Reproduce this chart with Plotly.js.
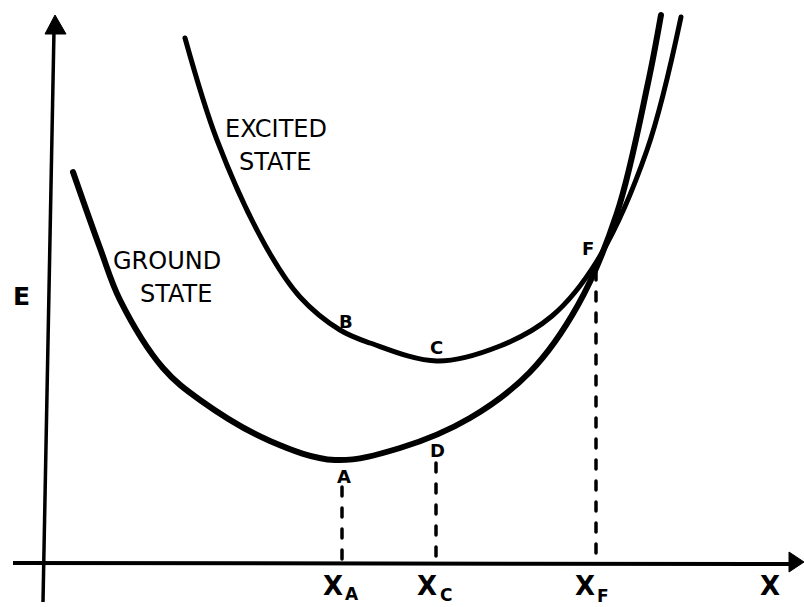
<!DOCTYPE html>
<html>
<head>
<meta charset="utf-8">
<script src="https://cdn.plot.ly/plotly-3.0.1.min.js"></script>
<style>
  html, body { margin: 0; padding: 0; background: #fff; }
  #chart { width: 804px; height: 607px; }
  .scatterlayer path.js-line { stroke-linecap: round; stroke-linejoin: round; }
</style>
</head>
<body>
<div id="chart"></div>
<script>
// Points (page pixel space: x right, y down)
const groundX = [73, 100, 120, 163, 200, 270, 335, 400, 470, 530, 578, 617, 648, 661];
const groundY = [172, 248, 300, 368, 400, 441, 460, 448, 418, 372, 305, 213, 83, 15];

const excitedX = [185, 217, 265, 300, 340, 370, 437, 500, 552, 597, 647, 681];
const excitedY = [38, 140, 245, 297, 330, 343, 361, 346, 316, 261, 150, 17];

// Drop lines from the marked points to the X axis
const dropNames = ["A", "D", "F"];
const dropX = [342, 436, 596];
const dropTopY = [487, 463, 271];
const baseY = 561;

// Point labels
const pointLabels = ["B", "C", "A", "D", "F"];
const pointLabelX = [346, 436, 344, 437, 588];
const pointLabelY = [321, 347, 476, 450, 248];

// Axis tick labels: main letter and subscript
const tickMain = ["X", "X", "X"];
const tickSub = ["A", "C", "F"];
const tickMainX = [333, 427, 585];
const tickSubX = [352, 446, 603];
const tickSubY = [594, 595, 596];

const traces = [];
traces.push({
  x: groundX, y: groundY, type: "scatter", mode: "lines",
  line: { color: "#000", width: 6, shape: "spline", smoothing: 1 },
  hoverinfo: "skip", name: "GROUND STATE"
});
traces.push({
  x: excitedX, y: excitedY, type: "scatter", mode: "lines",
  line: { color: "#000", width: 5, shape: "spline", smoothing: 1 },
  hoverinfo: "skip", name: "EXCITED STATE"
});
for (let i = 0; i < dropX.length; i++) {
  traces.push({
    x: [dropX[i], dropX[i]], y: [dropTopY[i], baseY], type: "scatter", mode: "lines",
    line: { color: "#000", width: 3.5, dash: "9px,12px" },
    hoverinfo: "skip", name: dropNames[i]
  });
}

const fontLabel = { family: "DejaVu Sans", size: 24, color: "#000" };
const fontBold = { family: "DejaVu Sans", size: 18, color: "#000", weight: "bold" };
const fontAxis = { family: "DejaVu Sans", size: 26, color: "#000", weight: "bold" };
const fontSub = { family: "DejaVu Sans", size: 17, color: "#000", weight: "bold" };

const annotations = [];
function ann(text, x, y, font) {
  annotations.push({ text, x, y, xref: "x", yref: "y", showarrow: false,
    xanchor: "center", yanchor: "middle", font });
}
ann("EXCITED", 276, 129, fontLabel);
ann("STATE", 275, 162, fontLabel);
ann("GROUND", 167, 261, fontLabel);
ann("STATE", 176, 294, fontLabel);
ann("E", 21, 296, { family: "DejaVu Sans", size: 25, color: "#000", weight: "bold" });
for (let i = 0; i < pointLabels.length; i++) {
  ann(pointLabels[i], pointLabelX[i], pointLabelY[i], fontBold);
}
for (let i = 0; i < tickMain.length; i++) {
  ann(tickMain[i], tickMainX[i], 586, fontAxis);
  ann(tickSub[i], tickSubX[i], tickSubY[i], fontSub);
}
ann("X", 770, 586, fontAxis);

const shapes = [
  // vertical (E) axis with arrow head
  { type: "line", xref: "x", yref: "y", x0: 43, y0: 602, x1: 54, y1: 30,
    line: { color: "#000", width: 3.5 } },
  { type: "path", xref: "x", yref: "y", path: "M 55 15 L 66 34 L 45 34 Z",
    fillcolor: "#000", line: { color: "#000", width: 1 } },
  // horizontal (X) axis with arrow head
  { type: "line", xref: "x", yref: "y", x0: 13, y0: 563, x1: 792, y1: 564,
    line: { color: "#000", width: 4 } },
  { type: "path", xref: "x", yref: "y", path: "M 804 562 L 789 552 L 789 572 Z",
    fillcolor: "#000", line: { color: "#000", width: 1 } }
];

const layout = {
  width: 804, height: 607,
  margin: { l: 0, r: 0, t: 0, b: 0, pad: 0 },
  paper_bgcolor: "#fff", plot_bgcolor: "#fff",
  showlegend: false,
  xaxis: { range: [0, 804], visible: false, fixedrange: true },
  yaxis: { range: [607, 0], visible: false, fixedrange: true },
  annotations, shapes
};

Plotly.newPlot("chart", traces, layout, { displayModeBar: false, staticPlot: true });
</script>
</body>
</html>
